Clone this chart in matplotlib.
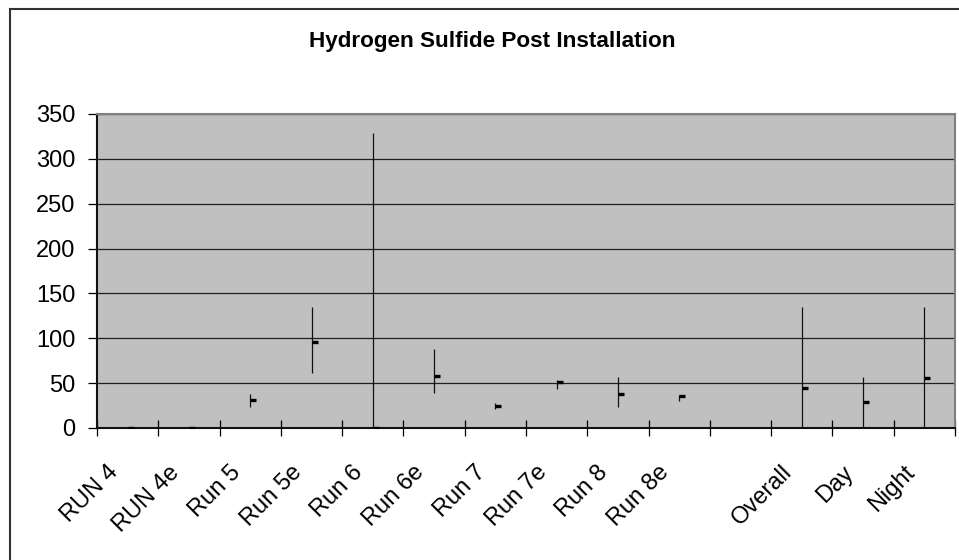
import numpy as np
import matplotlib
matplotlib.use("Agg")
import matplotlib.pyplot as plt
from matplotlib.lines import Line2D
from matplotlib.markers import TICKRIGHT
import matplotlib.transforms as mtransforms

plt.rcParams['font.family'] = ['Liberation Sans', 'DejaVu Sans']

# hydrogen sulfide, high / low / close per run
categories = ["RUN 4", "RUN 4e", "Run 5", "Run 5e", "Run 6", "Run 6e", "Run 7",
              "Run 7e", "Run 8", "Run 8e", "", "Overall", "Day", "Night"]
high = [0, 0, 38, 135, 329, 88, 28, 53, 57, 37, np.nan, 135, 57, 135]
low = [0, 0, 23, 61, 0, 39, 21, 44, 23, 30, np.nan, 0, 0, 0]
close = [0, 0, 31, 96, 0, 58, 25, 51, 38, 36, np.nan, 45, 29, 56]
y_ticks = [0, 50, 100, 150, 200, 250, 300, 350]

fig = plt.figure(figsize=(9.59, 5.6), dpi=100)
ax = fig.add_axes([97 / 959, 1 - 428 / 560, 858 / 959, 314 / 560])
ax.set_facecolor('#c0c0c0')

x = np.arange(len(categories))
ax.vlines(x, low, high, color='#111111', linewidth=0.9, zorder=3)
ax.plot(x, close, linestyle='none', marker=TICKRIGHT, markersize=4.5,
        markeredgewidth=2.4, color='black', zorder=4)

ax.set_xlim(-0.5, len(categories) - 0.5)
ax.set_ylim(0, 350)
ax.set_yticks(y_ticks)
ax.yaxis.grid(True, color='#202020', linewidth=0.9)
ax.set_axisbelow(True)

# boundary ticks (major) and labels at centres (minor)
ax.set_xticks(np.arange(len(categories) + 1) - 0.5)
ax.set_xticklabels([])
ax.set_xticks(x, minor=True)
ax.set_xticklabels(categories, minor=True, rotation=45, ha='right',
                   rotation_mode='anchor', fontsize=17)
ax.tick_params(axis='x', which='major', direction='inout', length=11, width=0.9)
ax.tick_params(axis='x', which='minor', length=0, pad=24)
ax.tick_params(axis='y', direction='out', length=6.5, width=0.9, pad=9, labelsize=17)
shift = mtransforms.ScaledTranslation(-21 / 100, 0, fig.dpi_scale_trans)
for lab in ax.get_xticklabels(minor=True):
    lab.set_transform(lab.get_transform() + shift)

for side in ['left', 'bottom']:
    ax.spines[side].set_color('#111111')
    ax.spines[side].set_linewidth(1.5)
for side in ['top', 'right']:
    ax.spines[side].set_color('#808080')
    ax.spines[side].set_linewidth(1.5)

fig.text(492 / 959, 1 - 41 / 560, "Hydrogen Sulfide Post Installation",
         ha='center', va='center', fontsize=16.2, fontweight='bold')

# chart area frame
fig.add_artist(Line2D([10 / 959, 10 / 959], [0, 1 - 9 / 560], color='#333333',
                      linewidth=1.5, transform=fig.transFigure))
fig.add_artist(Line2D([10 / 959, 1], [1 - 9 / 560, 1 - 9 / 560], color='#333333',
                      linewidth=1.5, transform=fig.transFigure))

fig.savefig('out.png', dpi=100)
